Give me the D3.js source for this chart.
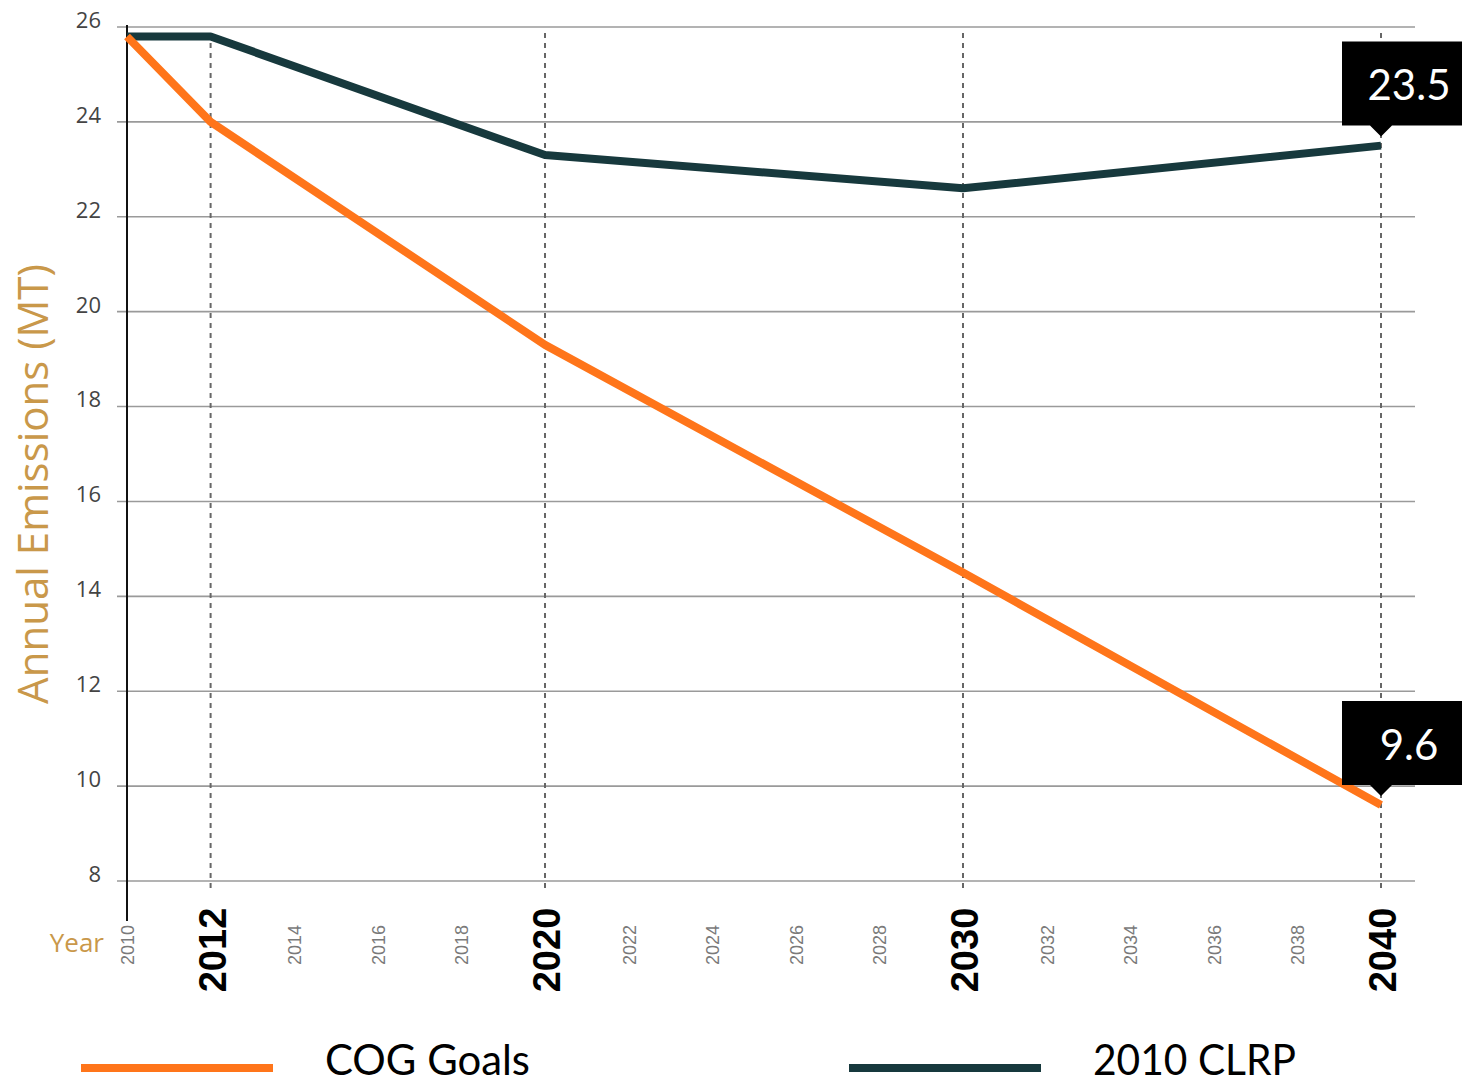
<!DOCTYPE html>
<html><head><meta charset="utf-8">
<script src="https://cdn.jsdelivr.net/npm/d3@7"></script>
<style>body{margin:0;background:#fff}svg{display:block}</style>
</head><body>
<script>
const years = [2010, 2012, 2020, 2030, 2040];
const cogGoals = [25.8, 24.0, 19.3, 14.5, 9.6];
const clrp2010 = [25.8, 25.8, 23.3, 22.6, 23.5];
const yTicks = [8, 10, 12, 14, 16, 18, 20, 22, 24, 26];
const minorYears = [2010, 2014, 2016, 2018, 2022, 2024, 2026, 2028, 2032, 2034, 2036, 2038];
const majorYears = [2012, 2020, 2030, 2040];
const callouts = [{series: "clrp", year: 2040, value: 23.5, label: "23.5"}, {series: "cog", year: 2040, value: 9.6, label: "9.6"}];
const legendItems = ["COG Goals", "2010 CLRP"];

const W = 1462, H = 1081;
const svg = d3.select("body").append("svg").attr("width", W).attr("height", H);
const x = d3.scaleLinear().domain([2010, 2040]).range([127, 1381]);
const y = d3.scaleLinear().domain([8, 26]).range([881, 27]);
const orange = "#ff751a", dark = "#17393d";

// gridlines
svg.append("g").selectAll("line").data(yTicks).join("line")
  .attr("x1", 117).attr("x2", 1415).attr("y1", d => y(d)).attr("y2", d => y(d))
  .attr("stroke", "#9a9a9a").attr("stroke-width", 1.6);

// y tick labels
svg.append("g").selectAll("text").data(yTicks).join("text")
  .attr("x", 101).attr("y", d => y(d) - 5).attr("text-anchor", "end")
  .attr("dominant-baseline", "middle")
  .attr("font-family", "Open Sans, sans-serif").attr("font-size", 22).attr("fill", "#444")
  .text(d => d);

// vertical dashed lines
svg.append("g").selectAll("line").data(majorYears).join("line")
  .attr("x1", d => x(d)).attr("x2", d => x(d)).attr("y1", 33).attr("y2", 890)
  .attr("stroke", "#666").attr("stroke-width", 2).attr("stroke-dasharray", "5,5");

// y axis line
svg.append("line").attr("x1", x(2010)).attr("x2", x(2010)).attr("y1", 25).attr("y2", 921)
  .attr("stroke", "#111").attr("stroke-width", 2);

// lines
const line = d3.line().x((d, i) => x(years[i])).y(d => y(d));
svg.append("path").datum(clrp2010).attr("d", line).attr("fill", "none")
  .attr("stroke", dark).attr("stroke-width", 8).attr("stroke-linejoin", "round");
svg.append("path").datum(cogGoals).attr("d", line).attr("fill", "none")
  .attr("stroke", orange).attr("stroke-width", 8).attr("stroke-linejoin", "round");

// x minor labels
svg.append("g").selectAll("text").data(minorYears).join("text")
  .attr("transform", d => `translate(${x(d) + 7},945) rotate(-90)`)
  .attr("text-anchor", "middle")
  .attr("font-family", "Liberation Sans, Arial, sans-serif").attr("font-size", 18).attr("fill", "#7a7a7a")
  .text(d => d);
// x major labels
svg.append("g").selectAll("text").data(majorYears).join("text")
  .attr("transform", d => `translate(${x(d) + 15},950) rotate(-90)`)
  .attr("text-anchor", "middle")
  .attr("font-family", "Liberation Sans, Arial, sans-serif").attr("font-weight", "bold")
  .attr("font-size", 38).attr("fill", "#000")
  .text(d => d);

// axis titles
svg.append("text").attr("x", 104).attr("y", 952).attr("text-anchor", "end")
  .attr("font-family", "Open Sans, sans-serif").attr("font-size", 26).attr("fill", "#c9984a").text("Year");
svg.append("text").attr("transform", "translate(48,484) rotate(-90)").attr("text-anchor", "middle")
  .attr("font-family", "Open Sans, sans-serif").attr("font-size", 42).attr("fill", "#c9984a")
  .text("Annual Emissions (MT)");

// callouts
callouts.forEach(c => {
  const px = x(c.year), py = y(c.value);
  const g = svg.append("g");
  const top = py - 104, bot = py - 20;
  g.append("path").attr("d",
    `M${px - 39},${top} H${px + 81} V${bot} H${px + 11} L${px},${py - 9} L${px - 11},${bot} H${px - 39} Z`)
    .attr("fill", "#000");
  g.append("text").attr("x", px + 28).attr("y", (top + bot) / 2 + 6).attr("text-anchor", "middle")
    .attr("dominant-baseline", "middle")
    .attr("font-family", "Lato, sans-serif").attr("font-size", 42).attr("fill", "#fff").text(c.label);
});

// legend
const legX = [81, 849], legTextX = [325, 1093], legCol = [orange, dark];
legendItems.forEach((t, i) => {
  svg.append("rect").attr("x", legX[i]).attr("y", 1064).attr("width", 192).attr("height", 8).attr("fill", legCol[i]);
  svg.append("text").attr("x", legTextX[i]).attr("y", 1075)
    .attr("font-family", "Lato, sans-serif").attr("font-size", 42).attr("fill", "#000")
    .attr("textLength", i === 0 ? 205 : 203).attr("lengthAdjust", "spacingAndGlyphs").text(t);
});
</script>
</body></html>
